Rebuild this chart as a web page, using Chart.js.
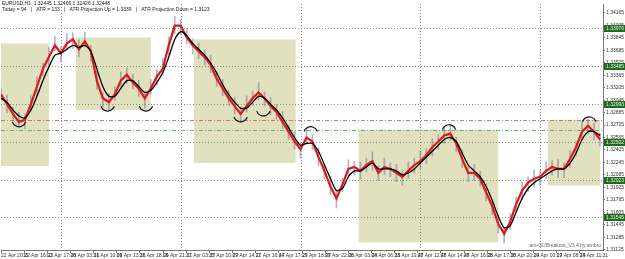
<!DOCTYPE html>
<html>
<head>
<meta charset="utf-8">
<script src="https://cdn.jsdelivr.net/npm/chart.js@4.4.0/dist/chart.umd.min.js"></script>
<style>
  html, body { margin: 0; padding: 0; background: #fff; }
</style>
</head>
<body>
<canvas id="chart" width="625" height="259"></canvas>
<script>
// Time labels on the bottom axis
const timeLabels = ['22 Apr 2015', '22 Apr 16:02', '23 Apr 17:08', '26 Apr 03:31', '26 Apr 10:09', '26 Apr 13:31',
    '26 Apr 18:09', '26 Apr 21:31', '27 Apr 03:35', '27 Apr 10:09', '27 Apr 14:11', '27 Apr 16:44', '27 Apr 17:29',
    '27 Apr 18:09', '27 Apr 22:06', '28 Apr 03:04', '28 Apr 06:33', '28 Apr 10:47', '28 Apr 12:47', '28 Apr 14:47',
    '28 Apr 16:05', '28 Apr 17:36', '28 Apr 20:14', '29 Apr 00:17', '29 Apr 08:24', '29 Apr 11:31'];

// Price scale labels
const priceTicks = [1.34165, 1.34005, 1.33845, 1.33685, 1.33525, 1.33365, 1.33205, 1.33045, 1.32885, 1.32725,
    1.32565, 1.32405, 1.32245, 1.32085, 1.31925, 1.31765, 1.31605, 1.31445, 1.31285, 1.31125];

// Fast moving average (red)
const fastMA = [1.33119, 1.32993, 1.32867, 1.32766, 1.32792, 1.32993, 1.33220, 1.33447, 1.33598, 1.33749,
    1.33648, 1.33774, 1.33825, 1.33699, 1.33800, 1.33674, 1.33296, 1.33069, 1.33018, 1.33119,
    1.33296, 1.33371, 1.33270, 1.33195, 1.33069, 1.33195, 1.33346, 1.33447, 1.33749, 1.34001,
    1.34001, 1.33850, 1.33749, 1.33674, 1.33598, 1.33497, 1.33321, 1.33195, 1.33069, 1.32968,
    1.32867, 1.32968, 1.33069, 1.33144, 1.33069, 1.32968, 1.32892, 1.32766, 1.32640, 1.32514,
    1.32414, 1.32565, 1.32514, 1.32313, 1.32136, 1.31935, 1.31784, 1.31960, 1.32162, 1.32187,
    1.32136, 1.32212, 1.32262, 1.32111, 1.32187, 1.32162, 1.32111, 1.32061, 1.32136, 1.32212,
    1.32262, 1.32338, 1.32439, 1.32514, 1.32590, 1.32615, 1.32489, 1.32288, 1.32111, 1.32111,
    1.32036, 1.31859, 1.31683, 1.31456, 1.31330, 1.31481, 1.31708, 1.31884, 1.31985, 1.32036,
    1.32061, 1.32136, 1.32187, 1.32162, 1.32162, 1.32288, 1.32439, 1.32640, 1.32716, 1.32640,
    1.32540];

// Slow moving average (black)
const slowMA = [1.33069, 1.33018, 1.32918, 1.32842, 1.32817, 1.32918, 1.33094, 1.33296, 1.33472, 1.33623,
    1.33648, 1.33699, 1.33749, 1.33724, 1.33749, 1.33674, 1.33447, 1.33220, 1.33094, 1.33094,
    1.33195, 1.33296, 1.33296, 1.33220, 1.33144, 1.33170, 1.33270, 1.33396, 1.33598, 1.33825,
    1.33926, 1.33875, 1.33774, 1.33699, 1.33623, 1.33522, 1.33396, 1.33245, 1.33119, 1.33018,
    1.32943, 1.32943, 1.33018, 1.33094, 1.33069, 1.32993, 1.32918, 1.32817, 1.32691, 1.32565,
    1.32464, 1.32489, 1.32489, 1.32388, 1.32212, 1.32036, 1.31884, 1.31910, 1.32061, 1.32136,
    1.32136, 1.32187, 1.32237, 1.32162, 1.32162, 1.32162, 1.32136, 1.32086, 1.32111, 1.32162,
    1.32237, 1.32313, 1.32388, 1.32464, 1.32540, 1.32565, 1.32514, 1.32363, 1.32212, 1.32136,
    1.32061, 1.31935, 1.31758, 1.31557, 1.31406, 1.31431, 1.31607, 1.31784, 1.31910, 1.31985,
    1.32036, 1.32086, 1.32136, 1.32162, 1.32162, 1.32237, 1.32363, 1.32540, 1.32640, 1.32640,
    1.32590];

// Bar highs and lows (thin wicks around the averages)
const barHigh = [1.3320, 1.3311, 1.3295, 1.3289, 1.3287, 1.3310, 1.3334, 1.3352, 1.3372, 1.3386,
    1.3373, 1.3390, 1.3391, 1.3382, 1.3392, 1.3375, 1.3342, 1.3314, 1.3313, 1.3322,
    1.3341, 1.3346, 1.3338, 1.3330, 1.3315, 1.3331, 1.3344, 1.3358, 1.3386, 1.3412,
    1.3408, 1.3396, 1.3383, 1.3378, 1.3369, 1.3362, 1.3341, 1.3331, 1.3317, 1.3308,
    1.3295, 1.3310, 1.3316, 1.3327, 1.3315, 1.3308, 1.3299, 1.3290, 1.3272, 1.3264,
    1.3250, 1.3269, 1.3260, 1.3243, 1.3222, 1.3206, 1.3190, 1.3204, 1.3228, 1.3226,
    1.3225, 1.3230, 1.3238, 1.3220, 1.3230, 1.3224, 1.3222, 1.3214, 1.3225, 1.3230,
    1.3238, 1.3242, 1.3255, 1.3260, 1.3270, 1.3273, 1.3257, 1.3240, 1.3219, 1.3222,
    1.3213, 1.3197, 1.3176, 1.3157, 1.3141, 1.3159, 1.3180, 1.3199, 1.3206, 1.3215,
    1.3214, 1.3225, 1.3227, 1.3228, 1.3224, 1.3240, 1.3252, 1.3276, 1.3280, 1.3275,
    1.3262];
const barLow = [1.3305, 1.3288, 1.3278, 1.3271, 1.3268, 1.3291, 1.3310, 1.3336, 1.3350, 1.3368,
    1.3354, 1.3370, 1.3371, 1.3360, 1.3373, 1.3355, 1.3318, 1.3296, 1.3292, 1.3304,
    1.3320, 1.3326, 1.3319, 1.3309, 1.3294, 1.3312, 1.3324, 1.3337, 1.3363, 1.3390,
    1.3389, 1.3377, 1.3364, 1.3358, 1.3350, 1.3340, 1.3322, 1.3310, 1.3298, 1.3287,
    1.3276, 1.3289, 1.3298, 1.3305, 1.3297, 1.3286, 1.3280, 1.3268, 1.3254, 1.3242,
    1.3230, 1.3248, 1.3241, 1.3220, 1.3203, 1.3183, 1.3166, 1.3187, 1.3207, 1.3208,
    1.3203, 1.3212, 1.3215, 1.3201, 1.3209, 1.3206, 1.3200, 1.3195, 1.3204, 1.3211,
    1.3216, 1.3223, 1.3233, 1.3241, 1.3249, 1.3253, 1.3238, 1.3218, 1.3200, 1.3201,
    1.3194, 1.3175, 1.3157, 1.3134, 1.3121, 1.3138, 1.3161, 1.3177, 1.3187, 1.3193,
    1.3195, 1.3204, 1.3208, 1.3205, 1.3205, 1.3218, 1.3233, 1.3254, 1.3261, 1.3253,
    1.3245];

// Breakout boxes: [startBar, endBar, top, bottom]
const boxes = [
    [0, 8, 1.33774, 1.32199],
    [12.5, 25, 1.33850, 1.32918],
    [32.2, 49.2, 1.33825, 1.32237],
    [59.7, 83, 1.32666, 1.31217],
    [91.3, 100, 1.32792, 1.31948]
];

// Level lines with green price tags
const levels = [1.33976, 1.33485, 1.32993, 1.32502, 1.32023, 1.31545];
const redLevel = 1.32792;
const greenLevel = 1.32666;
const dayLines = [10, 30, 50, 70, 90];

// Swing marks: [bar, price, isTop]
const swings = [
    [3, 1.32716, false], [17.8, 1.32918, false], [24.2, 1.32918, false], [40, 1.32779, false],
    [43.8, 1.32855, false], [51.7, 1.32691, true], [74.8, 1.32716, true], [98.2, 1.32817, true]
];

const headerLines = [
    'EURUSD,H1  1.32445 1.32466 1.32426 1.32448',
    'Today = 94   |   ATR = 133   |   ATR Projection Up = 1.3339   |   ATR Projection Down = 1.3123'
];
const footerText = 'ant-GUBreakout_V3.4 by ambro';

const X_MAX = 100.5;
const FONT = 'Liberation Sans';

const overlay = {
    id: 'overlay',
    beforeDatasetsDraw(chart) {
        const { ctx, chartArea: a, scales: { x, y } } = chart;
        ctx.save();
        ctx.beginPath();
        ctx.rect(a.left, a.top, a.right - a.left, a.bottom - a.top);
        ctx.clip();

        // shaded boxes
        ctx.fillStyle = 'rgba(206, 206, 152, 0.62)';
        boxes.forEach(b => {
            const x0 = x.getPixelForValue(b[0]), x1 = x.getPixelForValue(b[1]);
            const y0 = y.getPixelForValue(b[2]), y1 = y.getPixelForValue(b[3]);
            ctx.fillRect(x0, y0, x1 - x0, y1 - y0);
        });

        // dotted grid
        ctx.strokeStyle = '#8a8a8a';
        ctx.lineWidth = 1;
        ctx.setLineDash([1, 2]);
        dayLines.forEach(d => {
            const px = Math.round(x.getPixelForValue(d)) + 0.5;
            ctx.beginPath(); ctx.moveTo(px, a.top); ctx.lineTo(px, a.bottom); ctx.stroke();
        });
        ctx.strokeStyle = '#7a9a7a';
        levels.forEach(l => {
            const py = Math.round(y.getPixelForValue(l)) + 0.5;
            ctx.beginPath(); ctx.moveTo(a.left, py); ctx.lineTo(a.right, py); ctx.stroke();
        });

        // dash-dot lines
        ctx.setLineDash([4, 2, 1, 2]);
        ctx.strokeStyle = '#e07070';
        let py = Math.round(y.getPixelForValue(redLevel)) + 0.5;
        ctx.beginPath(); ctx.moveTo(a.left, py); ctx.lineTo(a.right, py); ctx.stroke();
        ctx.strokeStyle = '#70b070';
        py = Math.round(y.getPixelForValue(greenLevel)) + 0.5;
        ctx.beginPath(); ctx.moveTo(a.left, py); ctx.lineTo(a.right, py); ctx.stroke();
        ctx.restore();
    },
    afterDatasetsDraw(chart) {
        const { ctx, scales: { x, y } } = chart;
        ctx.save();
        ctx.strokeStyle = '#111';
        ctx.lineWidth = 1.2;
        swings.forEach(s => {
            const px = x.getPixelForValue(s[0]), py = y.getPixelForValue(s[1]);
            ctx.beginPath();
            if (s[2]) ctx.arc(px, py + 6, 7, Math.PI * 1.1, Math.PI * 1.9);
            else ctx.arc(px, py - 6, 7, Math.PI * 0.1, Math.PI * 0.9);
            ctx.stroke();
        });
        ctx.restore();
    },
    afterDraw(chart) {
        const { ctx, chartArea: a, scales: { y } } = chart;
        ctx.save();
        ctx.font = '5px "' + FONT + '"';
        ctx.textBaseline = 'middle';
        // green price tags
        levels.forEach(l => {
            const py = Math.round(y.getPixelForValue(l));
            ctx.fillStyle = '#1d6b1d';
            ctx.fillRect(a.right + 1, py - 3, 21, 7);
            ctx.fillStyle = '#e8f5e8';
            ctx.fillText(l.toFixed(5), a.right + 3, py + 0.5);
        });
        // header and footer
        ctx.fillStyle = '#222';
        ctx.fillText(headerLines[0], 2, 4);
        ctx.fillText(headerLines[1], 2, 10);
        ctx.fillStyle = '#666';
        ctx.textAlign = 'right';
        ctx.fillText(footerText, a.right - 2, a.bottom - 4);
        ctx.restore();
    }
};

const ctx = document.getElementById('chart').getContext('2d');
new Chart(ctx, {
    type: 'line',
    data: {
        datasets: [
            {
                label: 'Slow MA',
                data: slowMA.map((v, i) => ({ x: i, y: v })),
                borderColor: '#000',
                borderWidth: 1.3,
                pointRadius: 0,
                tension: 0.25
            },
            {
                label: 'Fast MA',
                data: fastMA.map((v, i) => ({ x: i, y: v })),
                borderColor: '#e01818',
                borderWidth: 2.2,
                pointRadius: 0,
                tension: 0
            },
            {
                type: 'bar',
                label: 'Range',
                data: barLow.map((v, i) => ({ x: i, y: [v, barHigh[i]] })),
                backgroundColor: 'rgba(120, 112, 160, 0.55)',
                barThickness: 1
            }
        ]
    },
    options: {
        responsive: false,
        animation: false,
        devicePixelRatio: 1,
        layout: { padding: { left: 1, right: 0, top: 0, bottom: 0 } },
        plugins: { legend: { display: false }, tooltip: { enabled: false } },
        scales: {
            x: {
                type: 'linear',
                offset: false,
                min: 0,
                max: X_MAX,
                afterBuildTicks: s => { s.ticks = timeLabels.map((t, k) => ({ value: k * X_MAX / 26 })); },
                afterFit: s => { s.height = 9; },
                ticks: {
                    callback: (v, i) => timeLabels[i],
                    font: { size: 5, family: FONT },
                    color: '#333',
                    align: 'start',
                    maxRotation: 0,
                    autoSkip: false,
                    padding: 0
                },
                grid: { drawOnChartArea: false, offset: false, tickLength: 3, color: '#777' },
                border: { color: '#777' }
            },
            y: {
                position: 'right',
                min: 1.3112,
                max: 1.3428,
                afterBuildTicks: s => { s.ticks = priceTicks.map(v => ({ value: v })); },
                afterFit: s => { s.width = 22; },
                ticks: {
                    callback: v => v.toFixed(5),
                    font: { size: 5, family: FONT },
                    color: '#333',
                    autoSkip: false,
                    padding: 1
                },
                grid: { drawOnChartArea: false, tickLength: 2, color: '#777' },
                border: { color: '#777' }
            }
        }
    },
    plugins: [overlay]
});
</script>
</body>
</html>
